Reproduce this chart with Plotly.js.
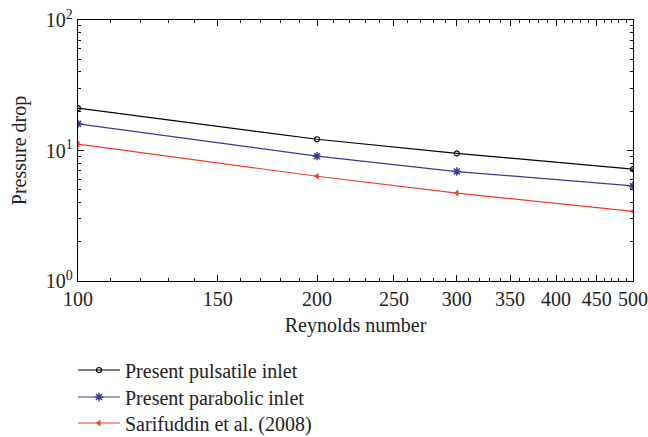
<!DOCTYPE html>
<html><head><meta charset="utf-8">
<script src="https://cdn.plot.ly/plotly-3.0.1.min.js"></script>
<style>html,body{margin:0;padding:0;background:#fff}</style>
</head><body>
<div id="chart" style="width:648px;height:437px"></div>
<script>
const reynolds = [100, 200, 300, 500];
const pulsatile = [21.1, 12.2, 9.5, 7.2];
const parabolic = [16.0, 9.05, 6.9, 5.35];
const sarifuddin = [11.2, 6.35, 4.72, 3.42];
const names = ['Present pulsatile inlet', 'Present parabolic inlet', 'Sarifuddin et al. (2008)'];
const xTicks = [100, 150, 200, 250, 300, 350, 400, 450, 500];
const xMinor = [110,120,130,140,160,170,180,190,210,220,230,240,260,270,280,290,310,320,330,340,360,370,380,390,410,420,430,440,460,470,480,490];
const yTicks = [1, 10, 100];
const yTickText = ['10<sup>0</sup>', '10<sup>1</sup>', '10<sup>2</sup>'];
const yMinor = [2,3,4,5,6,7,8,9,20,30,40,50,60,70,80,90];

const font = 'Liberation Serif, Times New Roman, serif';
const fs = 20;
const traces = [
  {x: reynolds, y: pulsatile, name: names[0], mode: 'lines+markers', legend: 'legend',
   line: {color: '#000000', width: 1.2},
   marker: {symbol: 'circle-open', size: 5, color: '#000000', line: {width: 1.2, color: '#000000'}}},
  {x: reynolds, y: parabolic, name: names[1], mode: 'lines+markers', legend: 'legend2',
   line: {color: '#3a3a98', width: 1.2},
   marker: {symbol: 'asterisk-open', size: 7, color: '#3a3a98', line: {width: 1.5, color: '#3a3a98'}}},
  {x: reynolds, y: sarifuddin, name: names[2], mode: 'lines+markers', legend: 'legend3',
   line: {color: '#f23c24', width: 1.2},
   marker: {symbol: 'triangle-left', size: 6, color: '#f23c24'}}
];
const axisCommon = {
  type: 'log', showgrid: false, zeroline: false, showline: true, linecolor: '#000', linewidth: 1.2,
  mirror: 'allticks', ticks: 'inside', ticklen: 6, tickwidth: 1, tickcolor: '#000',
  tickfont: {family: font, size: fs, color: '#222'}, automargin: false
};
const plotTop = 20, plotBottom = 281, plotH = plotBottom - plotTop, plotL = 78, plotW = 633 - 78;
const legendRowsY = [370, 397, 423];
function legendAt(rowY) {
  return {x: (73 - plotL) / plotW, xanchor: 'left', y: (plotBottom - rowY) / plotH, yanchor: 'middle',
          bgcolor: 'rgba(0,0,0,0)', borderwidth: 0, font: {family: font, size: fs, color: '#222'},
          tracegroupgap: 0, itemwidth: 42};
}
const layout = {
  width: 648, height: 437,
  margin: {l: plotL, r: 648 - 633, t: plotTop, b: 437 - plotBottom, autoexpand: false},
  paper_bgcolor: '#fff', plot_bgcolor: '#fff',
  font: {family: font, color: '#222'},
  xaxis: Object.assign({}, axisCommon, {
    range: [Math.log10(100), Math.log10(500)], tickangle: 0,
    tickmode: 'array', tickvals: xTicks, ticktext: xTicks.map(String),
    minor: {tickmode: 'array', tickvals: xMinor, ticks: 'inside', ticklen: 3, tickcolor: '#000'},
    title: {text: 'Reynolds number', font: {family: font, size: fs, color: '#222'}, standoff: 8}
  }),
  yaxis: Object.assign({}, axisCommon, {
    range: [0, 2],
    tickmode: 'array', tickvals: yTicks, ticktext: yTickText,
    minor: {tickmode: 'array', tickvals: yMinor, ticks: 'inside', ticklen: 3, tickcolor: '#000'},
    title: {text: 'Pressure drop', font: {family: font, size: fs, color: '#222'}, standoff: 13}
  }),
  showlegend: true,
  legend: legendAt(legendRowsY[0]),
  legend2: legendAt(legendRowsY[1]),
  legend3: legendAt(legendRowsY[2])
};
Plotly.newPlot('chart', traces, layout, {displayModeBar: false, staticPlot: true});
</script>
</body></html>
